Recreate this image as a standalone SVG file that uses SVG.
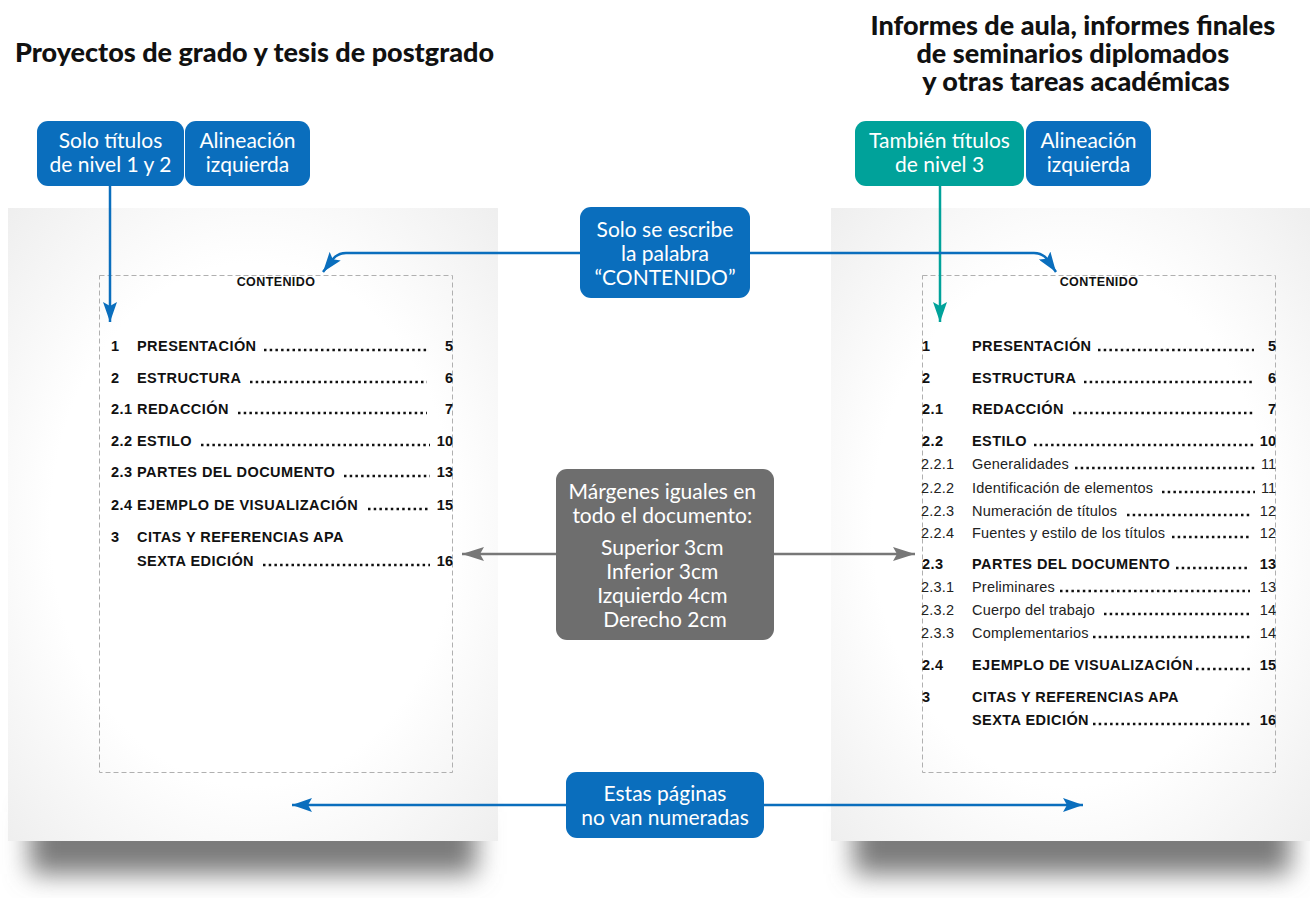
<svg xmlns="http://www.w3.org/2000/svg" width="1310" height="898" viewBox="0 0 1310 898">
  <defs>
    <radialGradient id="pageFill" cx="0.5" cy="0.5" r="0.75">
      <stop offset="0.55" stop-color="#ffffff"/>
      <stop offset="1" stop-color="#ececec"/>
    </radialGradient>
    <filter id="soft" x="-20%" y="-100%" width="140%" height="300%">
      <feGaussianBlur stdDeviation="13"/>
    </filter>
    <marker id="ahBlue" markerUnits="userSpaceOnUse" markerWidth="22" markerHeight="14" refX="20" refY="7" orient="auto">
      <path d="M0,0 L20,7 L0,14 L4,7 Z" fill="#0a6ebd"/>
    </marker>
    <marker id="ahTeal" markerUnits="userSpaceOnUse" markerWidth="22" markerHeight="14" refX="20" refY="7" orient="auto">
      <path d="M0,0 L20,7 L0,14 L4,7 Z" fill="#00a29a"/>
    </marker>
    <marker id="ahGray" markerUnits="userSpaceOnUse" markerWidth="24" markerHeight="14" refX="22" refY="7" orient="auto">
      <path d="M0,0 L22,7 L0,14 L4,7 Z" fill="#777777"/>
    </marker>
    <style>
      .title { font-family: Lato, "Open Sans", sans-serif; font-weight: 900; font-size: 27px; fill: #111111; }
      .lbl { font-family: Lato, "Open Sans", sans-serif; font-size: 21px; fill: #ffffff; text-anchor: middle; }
      .blue { fill: #0a6ebd; }
      .teal { fill: #00a29a; }
      .gray { fill: #6e6e6e; }
      .frame { fill: none; stroke: #b0b0b0; stroke-width: 1; stroke-dasharray: 5 3; }
      .hd { font-family: "Liberation Sans", Arial, sans-serif; font-weight: bold; font-size: 12.5px; letter-spacing: 0.4px; fill: #111; text-anchor: middle; }
      .b { font-family: "Liberation Sans", Arial, sans-serif; font-weight: bold; font-size: 14.5px; letter-spacing: 0.45px; fill: #111; }
      .r { font-family: "Liberation Sans", Arial, sans-serif; font-size: 14.5px; letter-spacing: 0.2px; fill: #222; }
      .pn { text-anchor: end; letter-spacing: 0; }
      .dots { stroke: #111; stroke-width: 2.5; stroke-dasharray: 2.5 3.2; fill: none; }
      .conn { fill: none; stroke-width: 2.5; }
    </style>
  </defs>

  <rect width="1310" height="898" fill="#ffffff"/>

  <!-- headings -->
  <text class="title" x="15" y="62">Proyectos de grado y tesis de postgrado</text>
  <text class="title" text-anchor="middle">
    <tspan x="1076" y="35">Informes de aula, informes finales</tspan>
    <tspan x="1076" y="63">de seminarios diplomados</tspan>
    <tspan x="1076" y="91">y otras tareas académicas</tspan>
  </text>

  <!-- sheets with drop shadows -->
  <g id="sheet-left">
    <rect x="30" y="812" width="446" height="62" fill="#7a7a7a" filter="url(#soft)"/>
    <rect x="8" y="208" width="490" height="633" fill="url(#pageFill)"/>
    <rect class="frame" x="99.5" y="275.5" width="353" height="497"/>
  </g>
  <g id="sheet-right">
    <rect x="854" y="812" width="436" height="62" fill="#7a7a7a" filter="url(#soft)"/>
    <rect x="831" y="208" width="479" height="633" fill="url(#pageFill)"/>
    <rect class="frame" x="922.5" y="275.5" width="353" height="497"/>
  </g>

  <!-- left table of contents -->
  <g id="toc-left">
    <text class="hd" x="276" y="286">CONTENIDO</text>
    <text class="b" x="111" y="351">1</text><text class="b" x="137" y="351">PRESENTACIÓN</text><line class="dots" x1="264" y1="350" x2="427" y2="350"/><text class="b pn" x="453" y="351">5</text>
    <text class="b" x="111" y="383">2</text><text class="b" x="137" y="383">ESTRUCTURA</text><line class="dots" x1="250" y1="382" x2="427" y2="382"/><text class="b pn" x="453" y="383">6</text>
    <text class="b" x="111" y="414">2.1</text><text class="b" x="137" y="414">REDACCIÓN</text><line class="dots" x1="238" y1="413" x2="427" y2="413"/><text class="b pn" x="453" y="414">7</text>
    <text class="b" x="111" y="446">2.2</text><text class="b" x="137" y="446">ESTILO</text><line class="dots" x1="201" y1="445" x2="430" y2="445"/><text class="b pn" x="453" y="446">10</text>
    <text class="b" x="111" y="477">2.3</text><text class="b" x="137" y="477">PARTES DEL DOCUMENTO</text><line class="dots" x1="344" y1="476" x2="430" y2="476"/><text class="b pn" x="453" y="477">13</text>
    <text class="b" x="111" y="510">2.4</text><text class="b" x="137" y="510">EJEMPLO DE VISUALIZACIÓN</text><line class="dots" x1="368" y1="509" x2="430" y2="509"/><text class="b pn" x="453" y="510">15</text>
    <text class="b" x="111" y="542">3</text><text class="b" x="137" y="542">CITAS Y REFERENCIAS APA</text>
    <text class="b" x="137" y="566">SEXTA EDICIÓN</text><line class="dots" x1="263" y1="565" x2="430" y2="565"/><text class="b pn" x="453" y="566">16</text>
  </g>

  <!-- right table of contents -->
  <g id="toc-right">
    <text class="hd" x="1099" y="286">CONTENIDO</text>
    <text class="b" x="922" y="351">1</text><text class="b" x="972" y="351">PRESENTACIÓN</text><line class="dots" x1="1098" y1="350" x2="1254" y2="350"/><text class="b pn" x="1276" y="351">5</text>
    <text class="b" x="922" y="383">2</text><text class="b" x="972" y="383">ESTRUCTURA</text><line class="dots" x1="1084" y1="382" x2="1254" y2="382"/><text class="b pn" x="1276" y="383">6</text>
    <text class="b" x="922" y="414">2.1</text><text class="b" x="972" y="414">REDACCIÓN</text><line class="dots" x1="1073" y1="413" x2="1254" y2="413"/><text class="b pn" x="1276" y="414">7</text>
    <text class="b" x="922" y="446">2.2</text><text class="b" x="972" y="446">ESTILO</text><line class="dots" x1="1034" y1="445" x2="1255" y2="445"/><text class="b pn" x="1276" y="446">10</text>
    <text class="r" x="921" y="469">2.2.1</text><text class="r" x="972" y="469">Generalidades</text><line class="dots" x1="1075" y1="468" x2="1255" y2="468"/><text class="r pn" x="1276" y="469">11</text>
    <text class="r" x="921" y="493">2.2.2</text><text class="r" x="972" y="493">Identificación de elementos</text><line class="dots" x1="1162" y1="492" x2="1255" y2="492"/><text class="r pn" x="1276" y="493">11</text>
    <text class="r" x="921" y="516">2.2.3</text><text class="r" x="972" y="516">Numeración de títulos</text><line class="dots" x1="1127" y1="515" x2="1250" y2="515"/><text class="r pn" x="1276" y="516">12</text>
    <text class="r" x="921" y="538">2.2.4</text><text class="r" x="972" y="538">Fuentes y estilo de los títulos</text><line class="dots" x1="1172" y1="537" x2="1250" y2="537"/><text class="r pn" x="1276" y="538">12</text>
    <text class="b" x="922" y="569">2.3</text><text class="b" x="972" y="569">PARTES DEL DOCUMENTO</text><line class="dots" x1="1176" y1="568" x2="1250" y2="568"/><text class="b pn" x="1276" y="569">13</text>
    <text class="r" x="921" y="592">2.3.1</text><text class="r" x="972" y="592">Preliminares</text><line class="dots" x1="1060" y1="591" x2="1250" y2="591"/><text class="r pn" x="1276" y="592">13</text>
    <text class="r" x="921" y="615">2.3.2</text><text class="r" x="972" y="615">Cuerpo del trabajo</text><line class="dots" x1="1104" y1="614" x2="1250" y2="614"/><text class="r pn" x="1276" y="615">14</text>
    <text class="r" x="921" y="638">2.3.3</text><text class="r" x="972" y="638">Complementarios</text><line class="dots" x1="1093" y1="637" x2="1250" y2="637"/><text class="r pn" x="1276" y="638">14</text>
    <text class="b" x="922" y="670">2.4</text><text class="b" x="972" y="670">EJEMPLO DE VISUALIZACIÓN</text><line class="dots" x1="1196" y1="669" x2="1250" y2="669"/><text class="b pn" x="1276" y="670">15</text>
    <text class="b" x="922" y="702">3</text><text class="b" x="972" y="702">CITAS Y REFERENCIAS APA</text>
    <text class="b" x="972" y="725">SEXTA EDICIÓN</text><line class="dots" x1="1093" y1="724" x2="1250" y2="724"/><text class="b pn" x="1276" y="725">16</text>
  </g>

  <!-- connectors -->
  <g id="connectors">
    <path class="conn" stroke="#0a6ebd" d="M110,186 V322" marker-end="url(#ahBlue)"/>
    <path class="conn" stroke="#00a29a" d="M940,186 V322" marker-end="url(#ahTeal)"/>
    <path class="conn" stroke="#0a6ebd" d="M580,253 H346 Q338,253 333,259 L323,272" marker-end="url(#ahBlue)"/>
    <path class="conn" stroke="#0a6ebd" d="M750,253 H1034 Q1042,253 1047,259 L1056,272" marker-end="url(#ahBlue)"/>
    <path class="conn" stroke="#777777" stroke-width="3" d="M556,554 H462" marker-end="url(#ahGray)"/>
    <path class="conn" stroke="#777777" stroke-width="3" d="M774,554 H915" marker-end="url(#ahGray)"/>
    <path class="conn" stroke="#0a6ebd" stroke-width="3" d="M566,805 H292" marker-end="url(#ahBlue)"/>
    <path class="conn" stroke="#0a6ebd" stroke-width="3" d="M764,805 H1083" marker-end="url(#ahBlue)"/>
  </g>

  <!-- callouts -->
  <g id="note-levels-left">
    <rect class="blue" x="37" y="121" width="147" height="65" rx="11"/>
    <text class="lbl"><tspan x="110.5" y="148">Solo títulos</tspan><tspan x="110.5" y="172">de nivel 1 y 2</tspan></text>
  </g>
  <g id="note-align-left">
    <rect class="blue" x="185" y="121" width="125" height="65" rx="11"/>
    <text class="lbl"><tspan x="247.5" y="148">Alineación</tspan><tspan x="247.5" y="172">izquierda</tspan></text>
  </g>
  <g id="note-levels-right">
    <rect class="teal" x="855" y="121" width="169" height="65" rx="11"/>
    <text class="lbl"><tspan x="939.5" y="148">También títulos</tspan><tspan x="939.5" y="172">de nivel 3</tspan></text>
  </g>
  <g id="note-align-right">
    <rect class="blue" x="1026" y="121" width="125" height="65" rx="11"/>
    <text class="lbl"><tspan x="1088.5" y="148">Alineación</tspan><tspan x="1088.5" y="172">izquierda</tspan></text>
  </g>
  <g id="note-heading">
    <rect class="blue" x="580" y="207" width="170" height="91" rx="11"/>
    <text class="lbl"><tspan x="665" y="237">Solo se escribe</tspan><tspan x="665" y="261">la palabra</tspan><tspan x="665" y="285">“CONTENIDO”</tspan></text>
  </g>
  <g id="note-margins">
    <rect class="gray" x="556" y="469" width="218" height="171" rx="11"/>
    <text class="lbl">
      <tspan x="665" y="499">Márgenes iguales en</tspan>
      <tspan x="665" y="523">todo el documento:</tspan>
      <tspan x="665" y="555">Superior 3cm</tspan>
      <tspan x="665" y="579">Inferior 3cm</tspan>
      <tspan x="665" y="603">Izquierdo 4cm</tspan>
      <tspan x="665" y="627">Derecho 2cm</tspan>
    </text>
  </g>
  <g id="note-numbering">
    <rect class="blue" x="566" y="772" width="198" height="66" rx="11"/>
    <text class="lbl"><tspan x="665" y="801">Estas páginas</tspan><tspan x="665" y="825">no van numeradas</tspan></text>
  </g>
</svg>
